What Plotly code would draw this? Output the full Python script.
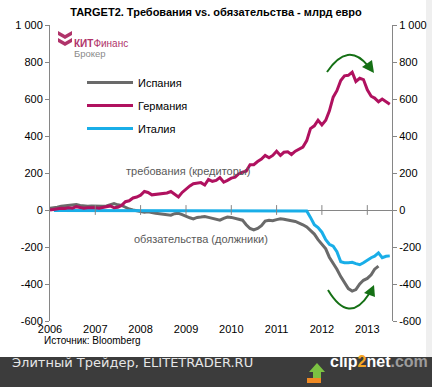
import pandas as pd
import plotly.graph_objects as go

# ---------------- data (monthly, billion EUR) ----------------
germany = [0, 3, 8, 10, 8, 12, 10, 18, 14, 10, 12, 10,
           12, 10, 14, 16, 22, 12, 15, 25, 45, 50, 65, 70,
           80, 100, 95, 82, 85, 88, 90, 92, 100, 85, 70, 95,
           115, 130, 142, 145, 148, 135, 165, 155, 160, 175, 150, 160,
           172, 178, 195, 205, 210, 245, 245, 262, 275, 295, 282, 295,
           318, 295, 312, 315, 300, 318, 330, 340, 375, 440, 455, 485,
           460, 485, 535, 610, 645, 700, 725, 728, 745, 695, 712, 705,
           650, 615, 605, 585, 600, 585, 572]
spain = [10, 12, 15, 20, 22, 25, 28, 30, 25, 22, 20, 22,
         20, 18, 20, 22, 30, 35, 28, 25, 15, 5, 0, -5,
         -10, -12, -10, -15, -18, -20, -22, -25, -28, -20, -18, -25,
         -35, -42, -48, -40, -38, -35, -40, -45, -50, -55, -45, -38,
         -40, -45, -50, -55, -80, -100, -108, -100, -85, -60, -55, -58,
         -52, -48, -50, -52, -58, -62, -70, -80, -92, -110, -130, -160,
         -185, -210, -255, -285, -320, -360, -395, -425, -438, -430, -400, -380,
         -370, -350, -320, -303]
italy = [-3] * 66 + [-3, -5, -40, -80, -95, -120, -160, -185, -195, -225,
                     -280, -285, -285, -283, -290, -296, -285, -270, -258,
                     -250, -232, -258, -250, -248]

germany_dates = pd.date_range("2006-01-01", periods=len(germany), freq="MS")
spain_dates = pd.date_range("2006-01-01", periods=len(spain), freq="MS")
italy_dates = pd.date_range("2006-02-01", periods=len(italy), freq="MS")

years = [str(y) for y in range(2006, 2014)]
year_dates = [f"{y}-01-01" for y in years]
y_ticks = [1000, 800, 600, 400, 200, 0, -200, -400, -600]
y_labels = ["1 000", "800", "600", "400", "200", "0", "-200", "-400", "-600"]

C_GER = "#b0115f"
C_ESP = "#6a6a6a"
C_ITA = "#19aee8"
AXIS = "#868686"
FONT = "Liberation Sans, Arial, sans-serif"

# ---------------- geometry helpers (pixel -> paper) ----------------
W, H = 432, 387
L, R, T, B = 50, 392, 25, 321


def px(x):
    return (x - L) / (R - L)


def py(y):
    return (B - y) / (B - T)


fig = go.Figure()

fig.add_trace(go.Scatter(x=spain_dates, y=spain, name="Испания", mode="lines",
                         line=dict(color=C_ESP, width=3), legendrank=1,
                         legendgroup="a"))
fig.add_trace(go.Scatter(x=italy_dates, y=italy, name="Италия", mode="lines",
                         line=dict(color=C_ITA, width=3), legendrank=3,
                         legendgroup="c"))
fig.add_trace(go.Scatter(x=germany_dates, y=germany, name="Германия", mode="lines",
                         line=dict(color=C_GER, width=3), legendrank=2,
                         legendgroup="b"))
# year tick marks crossing the zero line
fig.add_trace(go.Scatter(x=year_dates[1:], y=[0] * (len(year_dates) - 1), mode="markers",
                         marker=dict(symbol="line-ns", size=7,
                                     line=dict(color=AXIS, width=1)),
                         showlegend=False, hoverinfo="skip"))
# dummy trace to activate right axis
fig.add_trace(go.Scatter(x=[year_dates[0]], y=[0], yaxis="y2", mode="markers",
                         marker=dict(opacity=0), showlegend=False, hoverinfo="skip"))

yaxis_common = dict(range=[-600, 1000], tickvals=y_ticks, ticktext=y_labels,
                    showgrid=False, showline=True, linecolor=AXIS, linewidth=1,
                    ticks="outside", ticklen=4, tickcolor=AXIS,
                    tickfont=dict(family=FONT, size=11, color="#000"),
                    fixedrange=True, automargin=False)

fig.update_layout(
    width=W, height=H,
    margin=dict(l=L, r=W - R, t=T, b=H - B, autoexpand=False),
    paper_bgcolor="white", plot_bgcolor="white",
    font=dict(family=FONT, size=11, color="#000"),
    title=dict(text="<b>TARGET2. Требования vs. обязательства - млрд евро</b>",
               x=0.5, xref="container", xanchor="center",
               y=1 - 12 / H, yref="container", yanchor="middle",
               font=dict(family=FONT, size=11, color="#000")),
    xaxis=dict(type="date", range=["2006-01-01", "2013-07-19"],
               tickvals=year_dates, ticktext=years,
               showgrid=False, showline=False, zeroline=False, ticks="",
               tickfont=dict(family=FONT, size=11, color="#000"), fixedrange=True,
               automargin=False),
    yaxis=dict(**yaxis_common, zeroline=True, zerolinecolor=AXIS, zerolinewidth=1),
    yaxis2=dict(**yaxis_common, overlaying="y", side="right", zeroline=False),
    showlegend=True,
    legend=dict(x=px(82), y=py(68), xanchor="left", yanchor="top",
                bgcolor="rgba(0,0,0,0)", tracegroupgap=4, itemwidth=46,
                font=dict(family=FONT, size=11, color="#000")),
)

ann = []
ann.append(dict(text="требования (кредиторы)", x=px(124), y=py(171), xref="paper", yref="paper",
                showarrow=False, font=dict(family=FONT, size=11, color="#595959")))
ann.append(dict(text="обязательства (должники)", x=px(132), y=py(247), xref="paper", yref="paper",
                showarrow=False, font=dict(family=FONT, size=11, color="#595959")))
ann.append(dict(text="Источник: Bloomberg", x=px(42), y=py(348), xref="paper", yref="paper",
                xanchor="left", showarrow=False, font=dict(family=FONT, size=10, color="#000")))
# logo
ann.append(dict(text="<b>КИТ</b>Финанс", x=px(72), y=py(36), xref="paper", yref="paper",
                xanchor="left", showarrow=False, font=dict(family=FONT, size=10, color="#b0336a")))
ann.append(dict(text="Брокер", x=px(72), y=py(46), xref="paper", yref="paper",
                xanchor="left", showarrow=False, font=dict(family=FONT, size=9.5, color="#8a8a8a")))
# banner text
ann.append(dict(text="Элитный Трейдер, ELITETRADER.RU", x=px(10), y=py(372), xref="paper", yref="paper",
                xanchor="left", showarrow=False,
                font=dict(family="DejaVu Sans, sans-serif", size=13, color="#e6e6e6")))
ann.append(dict(text="<b>clip<span style='color:#f5a623'>2</span>net<span style='color:#9c9c9c'>.com</span></b>",
                x=px(328), y=py(372), xref="paper", yref="paper", xanchor="left", showarrow=False,
                font=dict(family=FONT, size=16, color="#ffffff")))
fig.update_layout(annotations=ann)


def path(points, close=True):
    s = "M " + " L ".join(f"{px(x):.5f},{py(y):.5f}" for x, y in points)
    return s + (" Z" if close else "")


def qpath(p0, c, p1):
    return (f"M {px(p0[0]):.5f},{py(p0[1]):.5f} Q {px(c[0]):.5f},{py(c[1]):.5f} "
            f"{px(p1[0]):.5f},{py(p1[1]):.5f}")


GREEN = "#157015"
shapes = [
    # right light strip
    dict(type="rect", xref="paper", yref="paper", x0=px(426), x1=px(432), y0=py(0), y1=py(357),
         fillcolor="#efefef", line=dict(width=0), layer="below"),
    # bottom banner
    dict(type="rect", xref="paper", yref="paper", x0=px(0), x1=px(432), y0=py(357), y1=py(387),
         fillcolor="#3c3c3c", line=dict(width=0), layer="above"),
    # logo chevrons
    dict(type="path", xref="paper", yref="paper",
         path=path([(58, 31), (65, 35), (72, 31), (72, 35), (65, 39), (58, 35)]),
         fillcolor="#b0336a", line=dict(width=0)),
    dict(type="path", xref="paper", yref="paper",
         path=path([(58, 38), (65, 42), (72, 38), (72, 42), (65, 46), (58, 42)]),
         fillcolor="#b0336a", line=dict(width=0)),
    # green arrows
    dict(type="path", xref="paper", yref="paper", path=qpath((327, 72), (348, 41), (368, 66)),
         line=dict(color=GREEN, width=2)),
    dict(type="path", xref="paper", yref="paper",
         path=path([(374, 73), (362, 67), (372, 60)]), fillcolor=GREEN, line=dict(width=0)),
    dict(type="path", xref="paper", yref="paper", path=qpath((328, 290), (349, 325), (369, 294)),
         line=dict(color=GREEN, width=2)),
    dict(type="path", xref="paper", yref="paper",
         path=path([(374, 285), (364, 293), (375, 297)]), fillcolor=GREEN, line=dict(width=0)),
    # clip2net icon
    dict(type="path", xref="paper", yref="paper",
         path=path([(309, 372), (317, 363), (325, 372), (321, 372), (321, 379), (313, 379), (313, 372)]),
         fillcolor="#7cc242", line=dict(width=0), layer="above"),
    dict(type="rect", xref="paper", yref="paper", x0=px(307), x1=px(321), y0=py(378), y1=py(383),
         fillcolor="#f08a24", line=dict(width=0), layer="above"),
]
fig.update_layout(shapes=shapes)

fig.write_html("out.html", config={"displayModeBar": False},
               post_script="document.body.style.margin='0';document.body.style.overflow='hidden';")
